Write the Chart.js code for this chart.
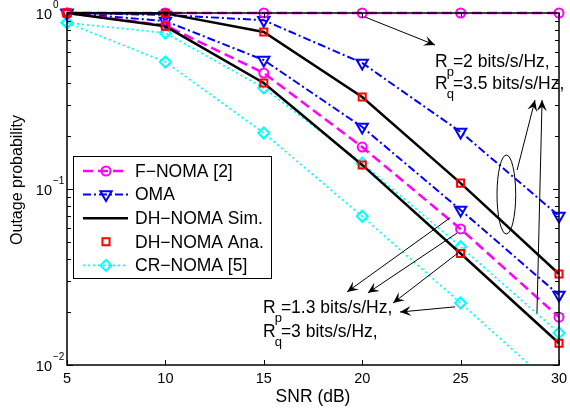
<!DOCTYPE html>
<html>
<head>
<meta charset="utf-8">
<script src="https://cdn.jsdelivr.net/npm/chart.js@4/dist/chart.umd.min.js"></script>
<style>
html, body { margin: 0; padding: 0; background: #fff; }
canvas { display: block; }
</style>
</head>
<body>
<canvas id="c" width="570" height="410"></canvas>
<script>
const snr = [5, 10, 15, 20, 25, 30];

// Rp = 2, Rq = 3.5
const fNomaHigh = [1, 1, 1, 1, 1, 1];
const omaHigh = [1, 0.975, 0.91, 0.52, 0.211, 0.0703];
const dhSimHigh = [1, 0.995, 0.78, 0.333, 0.108, 0.0329];
const dhAnaHigh = [1, 0.995, 0.78, 0.333, 0.108, 0.0329];
const crNomaHigh = [0.88, 0.77, 0.375, 0.14, 0.047, 0.0152];

// Rp = 1.3, Rq = 3
const fNomaLow = [1, 0.85, 0.456, 0.173, 0.0593, 0.0187];
const omaLow = [1, 0.90, 0.54, 0.225, 0.076, 0.025];
const dhSimLow = [1, 0.84, 0.40, 0.137, 0.043, 0.0133];
const dhAnaLow = [1, 0.84, 0.40, 0.137, 0.043, 0.0133];
const crNomaLow = [0.88, 0.527, 0.208, 0.070, 0.0225, 0.0071];

const xTicks = [5, 10, 15, 20, 25, 30];
const yTicks = [0.01, 0.1, 1];
const yTickExp = ["\u22122", "\u22121", "0"];

const legendLabels = ["F\u2212NOMA [2]", "OMA", "DH\u2212NOMA Sim.", "DH\u2212NOMA Ana.", "CR\u2212NOMA [5]"];

const FONT = '"Liberation Sans", Arial, Helvetica, sans-serif';

const styles = {
  fnoma: { color: "#ff00ff", dash: [10, 5], width: 2.5, point: "circle", radius: 4.5, rot: 0, line: true },
  oma: { color: "#0000ff", dash: [8, 3, 2, 3], width: 2, point: "triangle", radius: 6.5, rot: 180, line: true },
  dhSim: { color: "#000000", dash: [], width: 2.5, point: false, radius: 0, rot: 0, line: true },
  dhAna: { color: "#ff0000", dash: [], width: 2, point: "rect", radius: 5, rot: 0, line: false },
  cr: { color: "#00ffff", dash: [2, 3], width: 1.8, point: "rectRot", radius: 5.5, rot: 0, line: true }
};

function makeSet(label, values, s) {
  return {
    label: label,
    data: snr.map((x, i) => ({ x: x, y: values[i] })),
    borderColor: s.color,
    borderWidth: s.width,
    borderDash: s.dash,
    showLine: s.line,
    fill: false,
    tension: 0,
    pointStyle: s.point,
    pointRadius: s.radius,
    pointRotation: s.rot,
    pointBorderColor: s.color,
    pointBackgroundColor: "rgba(0,0,0,0)",
    pointBorderWidth: 2,
    clip: { left: 10, top: 10, right: 10, bottom: 0 }
  };
}

// annotations in data units
const arrowsHigh = [
  { from: [20.14, 0.949], to: [23.70, 0.658] },
  { from: [27.87, 0.128], to: [28.78, 0.32] },
  { from: [28.88, 0.0197], to: [29.14, 0.32] }
];
const arrowsLow = [
  { from: [24.46, 0.0685], to: [19.23, 0.026] },
  { from: [24.82, 0.0562], to: [20.29, 0.0257] },
  { from: [24.87, 0.0433], to: [21.57, 0.0225] },
  { from: [24.72, 0.0214], to: [21.92, 0.0200] }
];
const ellipseHigh = { x: [26.85, 27.8], y: [0.156, 0.0555] };
const labelHigh = { at: [23.70, 0.493], lines: [["p", "=2 bits/s/Hz,"], ["q", "=3.5 bits/s/Hz,"]], step: 0.1275 };
const labelLow = { at: [14.96, 0.0197], lines: [["p", "=1.3 bits/s/Hz,"], ["q", "=3 bits/s/Hz,"]], step: 0.136 };

function arrow(ctx, x1, y1, x2, y2) {
  ctx.strokeStyle = "#000";
  ctx.fillStyle = "#000";
  ctx.lineWidth = 1;
  ctx.setLineDash([]);
  ctx.beginPath();
  ctx.moveTo(x1, y1);
  ctx.lineTo(x2, y2);
  ctx.stroke();
  const a = Math.atan2(y2 - y1, x2 - x1);
  const L = 11, W = 5;
  const bx = x2 - Math.cos(a) * L, by = y2 - Math.sin(a) * L;
  const nx = x2 - Math.cos(a) * L * 0.6, ny = y2 - Math.sin(a) * L * 0.6;
  ctx.beginPath();
  ctx.moveTo(x2, y2);
  ctx.lineTo(bx - Math.sin(a) * W, by + Math.cos(a) * W);
  ctx.lineTo(nx, ny);
  ctx.lineTo(bx + Math.sin(a) * W, by - Math.cos(a) * W);
  ctx.closePath();
  ctx.fill();
}

function rateLabel(ctx, xs, ys, lab) {
  const x0 = xs.getPixelForValue(lab.at[0]);
  lab.lines.forEach((ln, i) => {
    const y = ys.getPixelForValue(lab.at[1] * Math.pow(10, -lab.step * i));
    ctx.fillStyle = "#000";
    ctx.textAlign = "left";
    ctx.textBaseline = "alphabetic";
    ctx.font = "17.5px " + FONT;
    ctx.fillText("R", x0, y);
    let x = x0 + ctx.measureText("R").width - 1;
    ctx.font = "13px " + FONT;
    ctx.fillText(ln[0], x, y + 9);
    x += ctx.measureText(ln[0]).width - 1;
    ctx.font = "17.5px " + FONT;
    ctx.fillText(ln[1], x, y);
  });
}

const framePlugin = {
  id: "frame",
  afterDatasetsDraw(chart) {
    const ctx = chart.ctx;
    const a = chart.chartArea;
    const xs = chart.scales.x, ys = chart.scales.y;
    ctx.save();
    ctx.setLineDash([]);
    ctx.strokeStyle = "#000";
    ctx.lineWidth = 1;

    // ticks
    ctx.beginPath();
    xTicks.forEach(v => {
      const px = Math.round(xs.getPixelForValue(v)) + 0.5;
      ctx.moveTo(px, a.bottom); ctx.lineTo(px, a.bottom - 5);
      ctx.moveTo(px, a.top); ctx.lineTo(px, a.top + 5);
    });
    for (let e = -2; e < 0; e++) {
      for (let m = 1; m <= 9; m++) {
        const py = Math.round(ys.getPixelForValue(m * Math.pow(10, e))) + 0.5;
        const len = m === 1 ? 6 : 4;
        ctx.moveTo(a.left, py); ctx.lineTo(a.left + len, py);
        ctx.moveTo(a.right, py); ctx.lineTo(a.right - len, py);
      }
    }
    ctx.stroke();

    // box
    ctx.lineWidth = 1.5;
    ctx.strokeRect(a.left, a.top, a.right - a.left, a.bottom - a.top);

    // tick labels
    ctx.fillStyle = "#000";
    ctx.font = "14.5px " + FONT;
    ctx.textAlign = "center";
    ctx.textBaseline = "middle";
    xTicks.forEach(v => ctx.fillText(String(v), xs.getPixelForValue(v), a.bottom + 14));
    yTicks.forEach((v, i) => {
      const py = ys.getPixelForValue(v);
      ctx.font = "14.5px " + FONT;
      ctx.textAlign = "right";
      ctx.fillText("10", a.left - 15, py + 2);
      ctx.font = "10px " + FONT;
      ctx.textAlign = "left";
      ctx.fillText(yTickExp[i], a.left - 14, py - 8);
    });

    // axis titles
    ctx.font = "17.5px " + FONT;
    ctx.textAlign = "center";
    ctx.fillText("SNR (dB)", (a.left + a.right) / 2, 397);
    ctx.save();
    ctx.font = "16px " + FONT;
    ctx.translate(18, 180);
    ctx.rotate(-Math.PI / 2);
    ctx.fillText("Outage probability", 0, 0);
    ctx.restore();

    // legend
    const lx = 73, ly = 156, lw = 198, lh = 122;
    ctx.fillStyle = "#fff";
    ctx.fillRect(lx, ly, lw, lh);
    ctx.lineWidth = 1;
    ctx.strokeStyle = "#000";
    ctx.strokeRect(lx + 0.5, ly + 0.5, lw, lh);
    const legStyles = [styles.fnoma, styles.oma, styles.dhSim, styles.dhAna, styles.cr];
    legStyles.forEach((s, i) => {
      const y = 171 + i * 23.6;
      if (s.line) {
        ctx.strokeStyle = s.color;
        ctx.lineWidth = s.width;
        ctx.setLineDash(s.dash);
        ctx.beginPath();
        ctx.moveTo(83, y); ctx.lineTo(128, y);
        ctx.stroke();
      }
      ctx.setLineDash([]);
      if (s.point) {
        ctx.strokeStyle = s.color;
        ctx.fillStyle = "rgba(0,0,0,0)";
        ctx.lineWidth = 2;
        Chart.helpers.drawPoint(ctx, { pointStyle: s.point, radius: s.radius, rotation: s.rot, borderWidth: 2 }, 106, y);
      }
      ctx.fillStyle = "#000";
      ctx.font = "17.5px " + FONT;
      ctx.textAlign = "left";
      ctx.textBaseline = "middle";
      ctx.fillText(legendLabels[i], 135, y + 1);
    });

    // annotations
    arrowsHigh.concat(arrowsLow).forEach(ar => {
      arrow(ctx, xs.getPixelForValue(ar.from[0]), ys.getPixelForValue(ar.from[1]),
        xs.getPixelForValue(ar.to[0]), ys.getPixelForValue(ar.to[1]));
    });
    const ex1 = xs.getPixelForValue(ellipseHigh.x[0]), ex2 = xs.getPixelForValue(ellipseHigh.x[1]);
    const ey1 = ys.getPixelForValue(ellipseHigh.y[0]), ey2 = ys.getPixelForValue(ellipseHigh.y[1]);
    ctx.strokeStyle = "#000";
    ctx.lineWidth = 1;
    ctx.beginPath();
    ctx.ellipse((ex1 + ex2) / 2, (ey1 + ey2) / 2, (ex2 - ex1) / 2, (ey2 - ey1) / 2, 0, 0, Math.PI * 2);
    ctx.stroke();
    rateLabel(ctx, xs, ys, labelHigh);
    rateLabel(ctx, xs, ys, labelLow);
    ctx.restore();
  }
};

new Chart(document.getElementById("c"), {
  type: "line",
  data: {
    datasets: [
      makeSet("DH-NOMA Ana. high", dhAnaHigh, styles.dhAna),
      makeSet("DH-NOMA Ana. low", dhAnaLow, styles.dhAna),
      makeSet("DH-NOMA Sim. high", dhSimHigh, styles.dhSim),
      makeSet("DH-NOMA Sim. low", dhSimLow, styles.dhSim),
      makeSet("F-NOMA high", fNomaHigh, styles.fnoma),
      makeSet("F-NOMA low", fNomaLow, styles.fnoma),
      makeSet("OMA high", omaHigh, styles.oma),
      makeSet("OMA low", omaLow, styles.oma),
      makeSet("CR-NOMA high", crNomaHigh, styles.cr),
      makeSet("CR-NOMA low", crNomaLow, styles.cr)
    ]
  },
  options: {
    responsive: false,
    animation: false,
    devicePixelRatio: 1,
    layout: { padding: { left: 67, top: 13, right: 11, bottom: 45 } },
    plugins: { legend: { display: false }, tooltip: { enabled: false } },
    scales: {
      x: { type: "linear", min: 5, max: 30, display: false },
      y: { type: "logarithmic", min: 0.01, max: 1, display: false }
    }
  },
  plugins: [framePlugin]
});
</script>
</body>
</html>
